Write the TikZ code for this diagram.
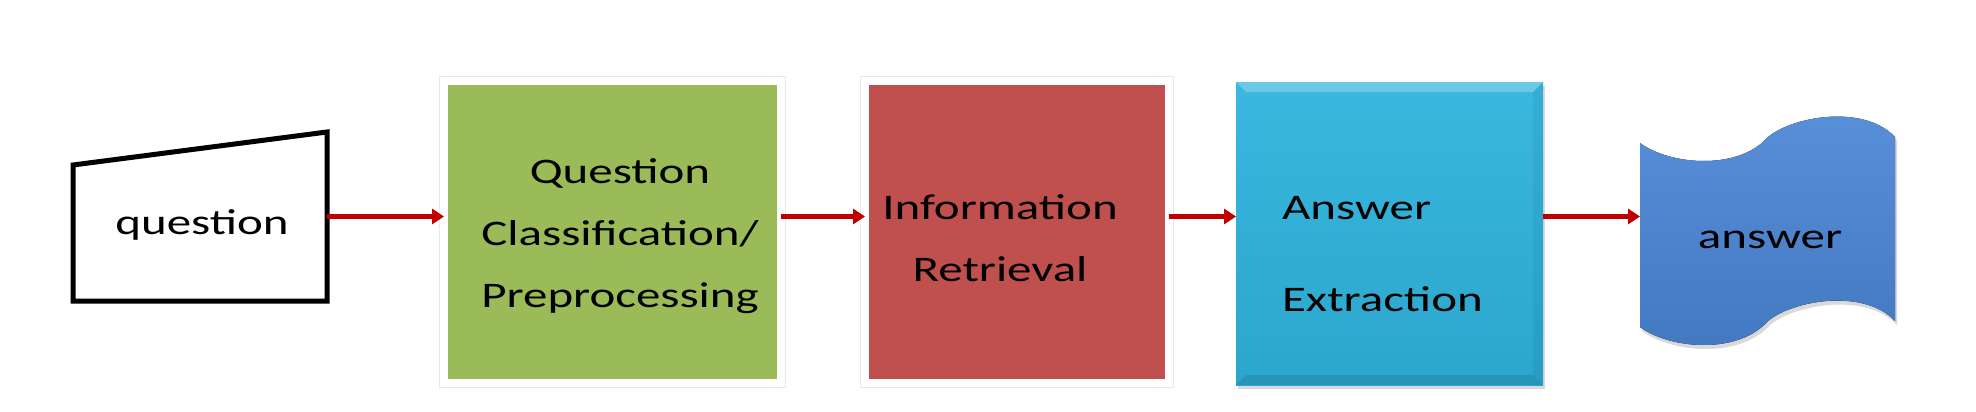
\documentclass[tikz,border=0pt]{standalone}
\usepackage{fontspec}
\setmainfont{Carlito}[FakeStretch=1.36]
\usetikzlibrary{arrows.meta,shadows}

\definecolor{qagreen}{HTML}{9BBB59}
\definecolor{qared}{HTML}{C0504D}
\definecolor{qacyan}{HTML}{2FB4DE}
\definecolor{qablue}{HTML}{4A86D6}
\definecolor{qaarrow}{HTML}{C00000}

\begin{document}
\begin{tikzpicture}[x=0.5pt, y=-0.5pt,
    txt/.style={font=\fontsize{18pt}{31pt}\selectfont, text=black, align=center},
    framebox/.style={draw=white, line width=4pt, outer sep=0pt,
      preaction={draw=black!9, line width=5pt},
      minimum height=151pt},
    bevelbox/.style={outer sep=0pt, minimum width=153.5pt, minimum height=151.5pt,
      top color=qacyan!95!white, bottom color=qacyan!92!black,
      drop shadow={shadow xshift=1pt, shadow yshift=-2pt, opacity=0.3}},
    inbox/.style={outer sep=0pt, inner sep=0pt},
    arrow/.style={-{Triangle[length=6pt,width=7.5pt]}, line width=2.5pt, qaarrow}
  ]
    \useasboundingbox (0,0) rectangle (1976,412);

    \node[inbox, minimum width=127pt, minimum height=84.5pt] (question) at (200,216.5) {};
    \draw[line width=2.5pt, line join=miter] (question.south west) -- (question.south east)
      -- (question.north east) -- ([yshift=-16.5pt]question.north west) -- cycle;
    \node[txt] (qlabel) at (202,225) {question};

    \node[framebox, fill=qagreen, minimum width=168.5pt] (qc) at (612.5,232) {};
    \node[txt] (qclabel) at (620,236) {Question\\Classification/\\Preprocessing};

    \node[framebox, fill=qared, minimum width=152pt] (ir) at (1017,232) {};
    \node[txt] (irlabel) at (1000,238) {Information\\Retrieval};

    \node[bevelbox] (ae) at (1389.5,233.5) {};
    \fill[white, opacity=0.25] (ae.north west) -- (ae.north east) -- ([xshift=-5pt,yshift=-5pt]ae.north east)
      -- ([xshift=5pt,yshift=-5pt]ae.north west) -- cycle;
    \fill[black, opacity=0.1] (ae.south west) -- (ae.south east) -- ([xshift=-5pt,yshift=5pt]ae.south east)
      -- ([xshift=5pt,yshift=5pt]ae.south west) -- cycle;
    \fill[black, opacity=0.05] (ae.north east) -- (ae.south east) -- ([xshift=-5pt,yshift=5pt]ae.south east)
      -- ([xshift=-5pt,yshift=-5pt]ae.north east) -- cycle;
    \node[txt, anchor=west, align=left, font=\fontsize{18pt}{46pt}\selectfont] (aelabel) at (1275,254) {Answer\\Extraction};

    \node[inbox, minimum width=127.5pt, minimum height=116.5pt] (answer) at (1767.5,231.5) {};
    \fill[top color=qablue!92!white, bottom color=qablue!90!black,
      drop shadow={shadow xshift=1pt, shadow yshift=-2pt, opacity=0.3}]
      (1640,143) .. controls (1670,165) and (1735,170) .. (1765,140)
      .. controls (1785,118) and (1862,102) .. (1895,137) -- (1895,321)
      .. controls (1862,286) and (1785,302) .. (1765,324)
      .. controls (1735,354) and (1670,349) .. (1640,327) -- cycle;
    \node[txt] (anslabel) at (1770,240) {answer};

    \draw[arrow] (question.east) -- (qc.west |- question.east);
    \draw[arrow] (qc.east |- question.east) -- (ir.west |- question.east);
    \draw[arrow] (ir.east |- question.east) -- (ae.west |- question.east);
    \draw[arrow] (ae.east |- question.east) -- (answer.west |- question.east);
  \end{tikzpicture}
\end{document}
